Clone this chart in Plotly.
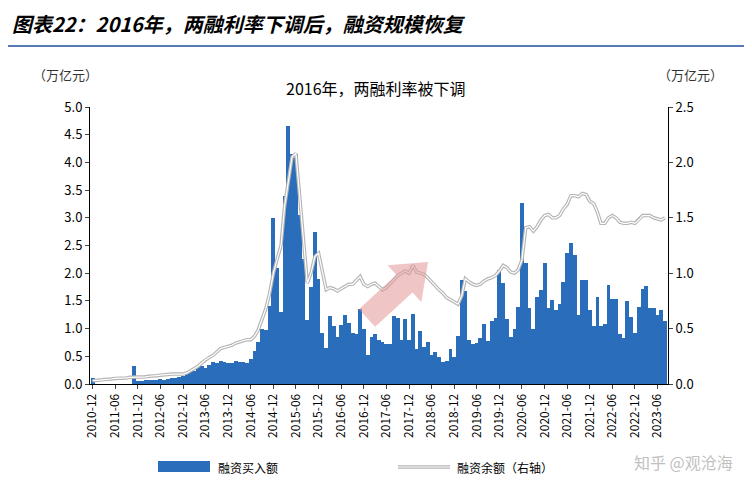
import pandas as pd
import plotly.graph_objects as go

# monthly data, 2010-12 .. 2023-08 (万亿元)
start_month = "2010-12-01"

buy_amount = [
    0.10,
    0, 0, 0, 0, 0, 0, 0, 0, 0, 0, 0.33, 0.06,
    0.06, 0.07, 0.08, 0.07, 0.08, 0.09, 0.08, 0.09, 0.10, 0.10, 0.12, 0.15,
    0.20, 0.25, 0.23, 0.30, 0.33, 0.28, 0.35, 0.40, 0.38, 0.42, 0.40, 0.38,
    0.38, 0.42, 0.40, 0.40, 0.38, 0.45, 0.60, 0.75, 1.00, 0.98, 1.40, 3.00,
    2.10, 1.30, 3.40, 4.65, 4.15, 4.15, 3.05, 2.25, 1.15, 1.75, 2.75, 1.90,
    0.92, 0.65, 1.22, 1.05, 0.85, 1.07, 1.25, 1.10, 0.92, 0.90, 1.35, 1.00,
    0.52, 0.85, 0.90, 0.80, 0.75, 0.73, 0.73, 1.22, 1.20, 0.80, 1.18, 0.80,
    1.26, 0.64, 0.96, 0.67, 0.75, 0.52, 0.58, 0.49, 0.40, 0.42, 0.63, 0.49,
    0.87, 1.88, 1.67, 0.79, 0.73, 0.74, 0.83, 1.08, 0.77, 1.13, 1.19, 2.06,
    1.82, 1.18, 0.85, 1.00, 1.39, 3.27, 2.18, 1.38, 1.00, 1.57, 1.70, 2.18,
    1.37, 1.52, 1.34, 1.45, 1.85, 2.36, 2.54, 2.33, 1.25, 1.87, 1.87, 1.34,
    1.04, 1.57, 1.05, 1.08, 1.78, 1.53, 1.53, 0.91, 0.83, 1.49, 1.21, 0.92,
    1.39, 1.71, 1.77, 1.37, 1.37, 1.25, 1.33, 1.13,
]

balance = [
    0.03,
    0.03, 0.035, 0.04, 0.04, 0.045, 0.05, 0.05, 0.05, 0.055, 0.06, 0.06, 0.06,
    0.06, 0.065, 0.07, 0.07, 0.075, 0.08, 0.085, 0.085, 0.09, 0.09, 0.09, 0.09,
    0.10, 0.12, 0.14, 0.16, 0.19, 0.22, 0.24, 0.26, 0.29, 0.32, 0.33, 0.34,
    0.35, 0.37, 0.38, 0.39, 0.40, 0.40, 0.43, 0.49, 0.58, 0.68, 0.82, 1.00,
    1.13, 1.25, 1.60, 1.85, 2.05, 2.08, 1.70, 1.30, 0.91, 1.00, 1.15, 1.18,
    1.00, 0.85, 0.87, 0.86, 0.84, 0.86, 0.88, 0.90, 0.90, 0.93, 0.97, 0.90,
    0.88, 0.90, 0.91, 0.88, 0.85, 0.87, 0.90, 0.94, 0.98, 1.00, 1.02, 1.00,
    1.07, 1.01, 1.00, 0.99, 0.96, 0.92, 0.88, 0.85, 0.82, 0.78, 0.76, 0.74,
    0.72, 0.80, 0.95, 0.92, 0.90, 0.89, 0.90, 0.93, 0.95, 0.96, 0.98, 1.02,
    1.07, 1.05, 1.01, 1.00, 1.03, 1.12, 1.41, 1.42, 1.38, 1.42, 1.48, 1.52,
    1.53, 1.50, 1.50, 1.52, 1.58, 1.62, 1.70, 1.70, 1.69, 1.72, 1.71, 1.65,
    1.63, 1.55, 1.45, 1.45, 1.50, 1.52, 1.50, 1.46, 1.45, 1.45, 1.46, 1.45,
    1.48, 1.52, 1.52, 1.52, 1.50, 1.49, 1.48, 1.50,
]

months = pd.date_range(start_month, periods=len(buy_amount), freq="MS")

BLUE = "#2a6ebb"
FONT = "Noto Sans CJK SC"
W, H = 752, 492
ML, MR, MT, MB = 82, 92, 99, 116
# plot box as seen in the reference image (page has an 8px offset)
RL, RB, PW, PH = 90, 384, 578, 277


def px(x, y):
    # reference pixel position -> paper coords, for decorations only
    return (x - RL) / PW, (RB - y) / PH


def arrow_path(tail, tip, half_w=12, head_w=25, head_len=32):
    dx, dy = tip[0] - tail[0], tip[1] - tail[1]
    n = (dx * dx + dy * dy) ** 0.5
    ux, uy = dx / n, dy / n
    vx, vy = -uy, ux
    bx, by = tip[0] - ux * head_len, tip[1] - uy * head_len
    pts = [
        (tail[0] + vx * half_w, tail[1] + vy * half_w),
        (bx + vx * half_w, by + vy * half_w),
        (bx + vx * head_w, by + vy * head_w),
        tip,
        (bx - vx * head_w, by - vy * head_w),
        (bx - vx * half_w, by - vy * half_w),
        (tail[0] - vx * half_w, tail[1] - vy * half_w),
    ]
    pts = [px(*p) for p in pts]
    return "M " + " L ".join(f"{a:.4f},{b:.4f}" for a, b in pts) + " Z"


def label(text, x, y, size=12, color="black", xanchor="center"):
    fig.add_annotation(text=text, xref="paper", yref="paper", x=px(x, 0)[0],
                       y=px(0, y)[1], xanchor=xanchor, yanchor="middle",
                       showarrow=False, font=dict(size=size, color=color))


fig = go.Figure()
fig.add_trace(go.Bar(x=months, y=buy_amount, name="融资买入额",
                     marker=dict(color=BLUE, line=dict(width=0)), width=31*86400000))
# hollow-looking line: grey under a thin white one
fig.add_trace(go.Scatter(x=months, y=balance, yaxis="y2", mode="lines",
                         line=dict(color="#b5b5b5", width=3.5)))
fig.add_trace(go.Scatter(x=months, y=balance, yaxis="y2", mode="lines",
                         line=dict(color="white", width=1.2)))

# pink arrow
fig.add_shape(type="path", xref="paper", yref="paper",
              path=arrow_path((367, 318), (428, 262)),
              fillcolor="rgba(228,150,150,0.55)", line=dict(width=0))

label("<b><i>图表22：2016年，两融利率下调后，融资规模恢复</i></b>", 10, 24,
      size=20, xanchor="left")
fig.add_shape(type="line", xref="paper", yref="paper", x0=px(0, 0)[0], x1=px(752, 0)[0],
              y0=px(0, 46)[1], y1=px(0, 46)[1], line=dict(color="#1f4e9c", width=1.5))
label("2016年，两融利率被下调", 376, 88, size=16)
label("（万亿元）", 65, 74, size=13, color="#333")
label("（万亿元）", 690, 74, size=13, color="#333")
label("知乎 @观沧海", 735, 462, size=16, color="#c0c0c0", xanchor="right")

# manual legend
x0, y0 = px(158, 472)
x1, y1 = px(210, 461)
fig.add_shape(type="rect", xref="paper", yref="paper", x0=x0, y0=y0, x1=x1, y1=y1,
              fillcolor=BLUE, line=dict(width=0))
label("融资买入额", 216, 467, xanchor="left")
for col, wd in (("#b5b5b5", 3.5), ("white", 1.2)):
    fig.add_shape(type="line", xref="paper", yref="paper", x0=px(398, 0)[0],
                  x1=px(450, 0)[0], y0=px(0, 467)[1], y1=px(0, 467)[1],
                  line=dict(color=col, width=wd))
label("融资余额（右轴）", 455, 467, xanchor="left")

fig.update_layout(
    width=W, height=H,
    margin=dict(l=ML, r=MR, t=MT, b=MB),
    plot_bgcolor="white", paper_bgcolor="white",
    font=dict(family=FONT, size=12, color="black"),
    bargap=0, showlegend=False,
    xaxis=dict(type="date", range=["2010-11-10", "2023-08-25"],
               tick0="2010-12-01", dtick="M6", tickformat="%Y-%m", tickangle=-90,
               showline=True, linecolor="black", ticks="outside", ticklen=4,
               showgrid=False, tickfont=dict(size=12)),
    yaxis=dict(range=[0, 5], dtick=0.5, tickformat=".1f", showline=True,
               linecolor="black", ticks="outside", ticklen=4, showgrid=False,
               zeroline=False, tickfont=dict(size=13)),
    yaxis2=dict(range=[0, 2.5], dtick=0.5, tickformat=".1f", overlaying="y",
                side="right", showline=True, linecolor="black", ticks="outside",
                ticklen=4, showgrid=False, zeroline=False, tickfont=dict(size=13)),
)

fig.write_html("out.html")
